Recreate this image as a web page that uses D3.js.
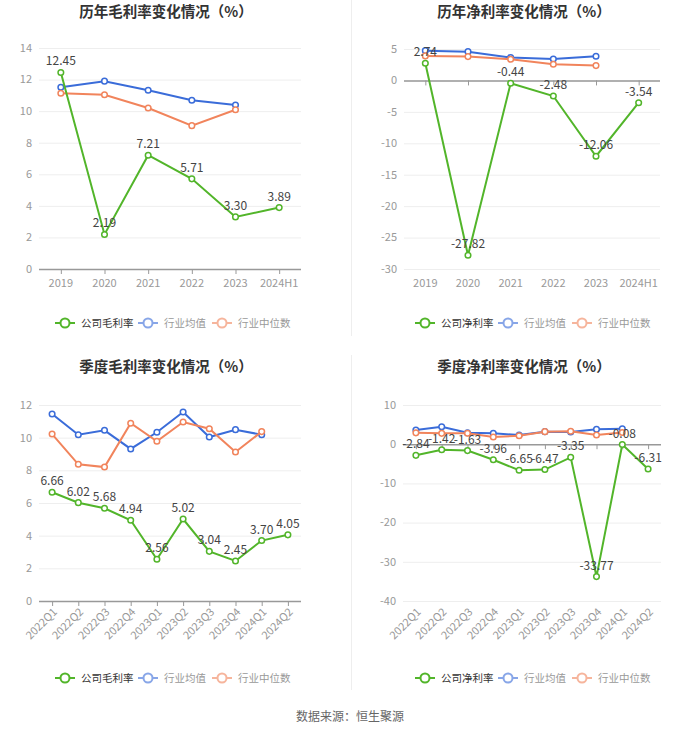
<!DOCTYPE html>
<html><head><meta charset="utf-8">
<script src="https://cdn.jsdelivr.net/npm/d3@7"></script>
<style>body{margin:0;background:#fff;}svg{display:block;font-family:"Noto Sans CJK SC","Noto Sans",sans-serif;}</style>
</head><body>
<svg id="c" width="700" height="733"></svg>
<script>
const yearCats = ["2019","2020","2021","2022","2023","2024H1"];
const quarterCats = ["2022Q1","2022Q2","2022Q3","2022Q4","2023Q1","2023Q2","2023Q3","2023Q4","2024Q1","2024Q2"];

const yearGrossCompany = [12.45, 2.19, 7.21, 5.71, 3.30, 3.89];
const yearGrossAvg = [11.51, 11.90, 11.32, 10.69, 10.39];
const yearGrossMedian = [11.13, 11.04, 10.20, 9.08, 10.09];

const yearNetCompany = [2.74, -27.82, -0.44, -2.48, -12.06, -3.54];
const yearNetAvg = [4.74, 4.58, 3.63, 3.42, 3.85];
const yearNetMedian = [3.90, 3.79, 3.37, 2.58, 2.36];

const qGrossCompany = [6.66, 6.02, 5.68, 4.94, 2.56, 5.02, 3.04, 2.45, 3.70, 4.05];
const qGrossAvg = [11.45, 10.18, 10.45, 9.31, 10.33, 11.57, 10.04, 10.49, 10.18];
const qGrossMedian = [10.22, 8.37, 8.20, 10.88, 9.78, 10.96, 10.55, 9.12, 10.37];

const qNetCompany = [-2.84, -1.42, -1.63, -3.96, -6.65, -6.47, -3.35, -33.77, -0.08, -6.31];
const qNetAvg = [3.60, 4.47, 2.90, 2.77, 2.35, 3.20, 3.10, 3.80, 3.95];
const qNetMedian = [2.90, 2.77, 2.80, 1.83, 2.17, 3.20, 3.30, 2.35, 3.00];

const yTicksYearGross = [0,2,4,6,8,10,12,14];
const yTicksYearNet = [-30,-25,-20,-15,-10,-5,0,5];
const yTicksQGross = [0,2,4,6,8,10,12];
const yTicksQNet = [-40,-30,-20,-10,0,10];

const titles = ["历年毛利率变化情况（%）","历年净利率变化情况（%）","季度毛利率变化情况（%）","季度净利率变化情况（%）"];
const legendGross = ["公司毛利率","行业均值","行业中位数"];
const legendNet = ["公司净利率","行业均值","行业中位数"];
const source = "数据来源：恒生聚源";

const GREEN = "#52b52a", BLUE = "#3a6cd9", ORANGE = "#f1845c";
const svg = d3.select("#c");

// dividers
svg.append("line").attr("x1",351.5).attr("x2",351.5).attr("y1",0).attr("y2",336).attr("stroke","#eeeeee");
svg.append("line").attr("x1",351.5).attr("x2",351.5).attr("y1",355).attr("y2",690).attr("stroke","#eeeeee");

function panel(o){
  const g = svg.append("g");
  const x = d3.scaleBand().domain(o.cats).range(o.xr);
  const cx = c => x(c) + x.bandwidth()/2;
  const y = d3.scaleLinear().domain(o.yd).range(o.yr);
  // title
  g.append("text").attr("x",o.tx).attr("y",o.ty).attr("text-anchor","middle")
    .attr("font-size",14.5).attr("font-weight","bold").attr("fill","#333").text(o.title);
  // grid
  g.selectAll(".gl").data(o.yticks).enter().append("line")
    .attr("x1",o.xr[0]).attr("x2",o.xr[1]).attr("y1",d=>y(d)+0.5).attr("y2",d=>y(d)+0.5)
    .attr("stroke","#eeeeee");
  // y labels
  g.selectAll(".yl").data(o.yticks).enter().append("text")
    .attr("x",o.xr[0]-7).attr("y",d=>y(d)).attr("dy","0.35em").attr("text-anchor","end")
    .attr("font-size",11).attr("fill","#999").text(d=>d);
  // x axis line at 0
  const y0 = y(Math.max(o.yd[0],0));
  g.append("line").attr("x1",o.xr[0]).attr("x2",o.xr[1]).attr("y1",y0+0.5).attr("y2",y0+0.5)
    .attr("stroke","#999").attr("stroke-width",1.5);
  g.selectAll(".tk").data(o.cats).enter().append("line")
    .attr("x1",d=>cx(d)+0.5).attr("x2",d=>cx(d)+0.5).attr("y1",y0).attr("y2",y0+5)
    .attr("stroke","#999");
  const yb = o.yr[0];
  if(o.rotate){
    g.selectAll(".xl").data(o.cats).enter().append("text")
      .attr("transform",d=>`translate(${cx(d)+3},${yb+9}) rotate(-45)`)
      .attr("text-anchor","end").attr("dy","0.35em")
      .attr("font-size",11).attr("fill","#999").text(d=>d);
  } else {
    g.selectAll(".xl").data(o.cats).enter().append("text")
      .attr("x",d=>cx(d)).attr("y",yb+10).attr("dy","0.71em").attr("text-anchor","middle")
      .attr("font-size",11).attr("fill","#999").text(d=>d);
  }
  const series = [[o.avg,BLUE],[o.med,ORANGE],[o.comp,GREEN]];
  const line = d3.line().x((d,i)=>cx(o.cats[i])).y(d=>y(d));
  series.forEach(([vals,col])=>{
    g.append("path").datum(vals).attr("d",line).attr("fill","none").attr("stroke",col).attr("stroke-width",2);
    g.selectAll(null).data(vals).enter().append("circle")
      .attr("cx",(d,i)=>cx(o.cats[i])).attr("cy",d=>y(d)).attr("r",2.8)
      .attr("fill","#fff").attr("stroke",col).attr("stroke-width",1.5);
  });
  // labels for company
  g.selectAll(".dl").data(o.comp).enter().append("text")
    .attr("x",(d,i)=>cx(o.cats[i])).attr("y",d=>y(d)-7)
    .attr("text-anchor","middle").attr("font-size",12).attr("fill","#444")
    .text(d=>d.toFixed(2));
  // legend
  const items = [[o.legend[0],GREEN,"#333",1],[o.legend[1],BLUE,"#999",0.6],[o.legend[2],ORANGE,"#999",0.6]];
  const offs = [0,83,157];
  items.forEach((it,i)=>{
    const lx = o.lx + offs[i], ly = o.ly;
    const lg = g.append("g").attr("opacity",it[3]);
    lg.append("line").attr("x1",lx).attr("x2",lx+20).attr("y1",ly).attr("y2",ly).attr("stroke",it[1]).attr("stroke-width",2);
    lg.append("circle").attr("cx",lx+10).attr("cy",ly).attr("r",4.5).attr("fill","#fff").attr("stroke",it[1]).attr("stroke-width",2);
    g.append("text").attr("x",lx+26).attr("y",ly).attr("dy","0.35em").attr("font-size",10.5).attr("fill",it[2]).text(it[0]);
  });
}

panel({cats:yearCats, xr:[39,301], yd:[0,14], yr:[269,48], yticks:yTicksYearGross,
  comp:yearGrossCompany, avg:yearGrossAvg, med:yearGrossMedian, title:titles[0], tx:166, ty:17,
  legend:legendGross, lx:55, ly:323, rotate:false});
panel({cats:yearCats, xr:[404,660], yd:[-30,5], yr:[269,49], yticks:yTicksYearNet,
  comp:yearNetCompany, avg:yearNetAvg, med:yearNetMedian, title:titles[1], tx:524, ty:17,
  legend:legendNet, lx:415, ly:323, rotate:false});
panel({cats:quarterCats, xr:[39,301], yd:[0,12], yr:[601,405], yticks:yTicksQGross,
  comp:qGrossCompany, avg:qGrossAvg, med:qGrossMedian, title:titles[2], tx:166, ty:372,
  legend:legendGross, lx:55, ly:678, rotate:true});
panel({cats:quarterCats, xr:[403,661], yd:[-40,10], yr:[601,405], yticks:yTicksQNet,
  comp:qNetCompany, avg:qNetAvg, med:qNetMedian, title:titles[3], tx:524, ty:372,
  legend:legendNet, lx:415, ly:678, rotate:true});

svg.append("text").attr("x",350).attr("y",717).attr("dy","0.35em").attr("text-anchor","middle")
  .attr("font-size",12).attr("fill","#666").text(source);
</script>
</body></html>
